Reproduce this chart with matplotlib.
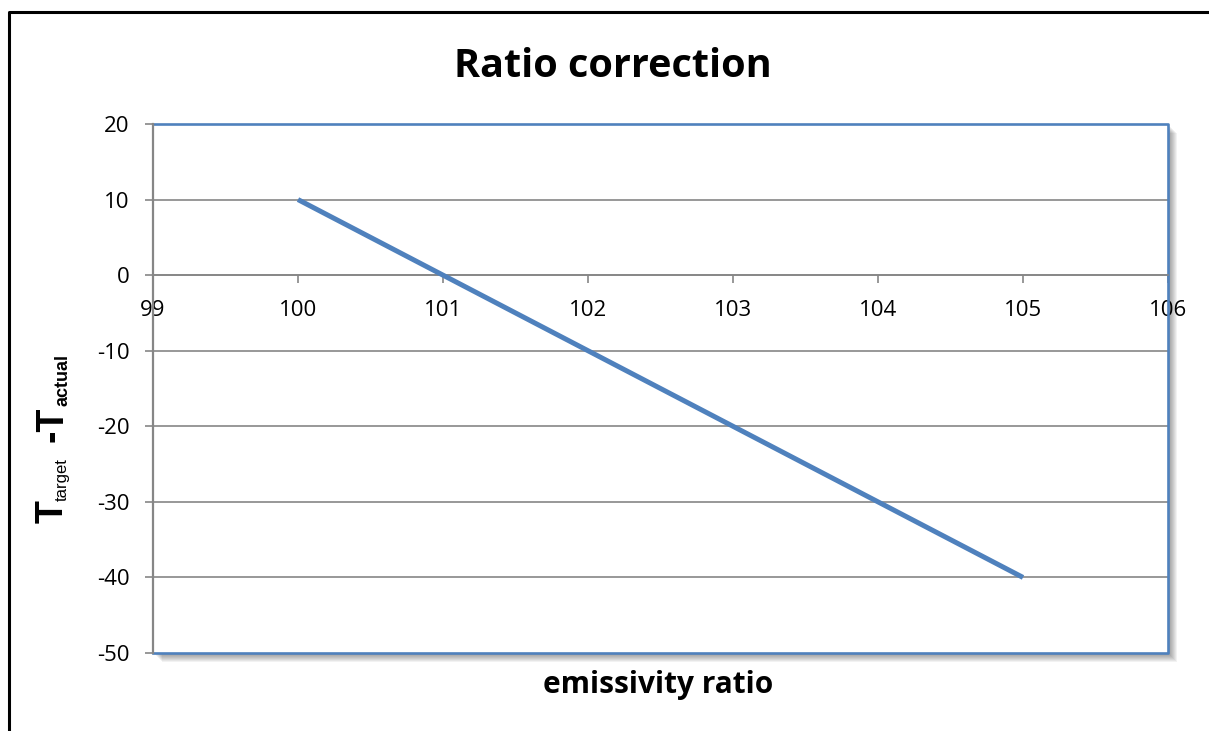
import matplotlib.pyplot as plt
from matplotlib.patches import Rectangle
from matplotlib.lines import Line2D

ratio = [100, 101, 102, 103, 104, 105]
delta_t = [10, 0, -10, -20, -30, -40]
x_ticks = [99, 100, 101, 102, 103, 104, 105, 106]
y_ticks = [20, 10, 0, -10, -20, -30, -40, -50]

W, H = 1209, 731
blue = "#4F81BD"
grey = "#868686"

plt.rcParams['font.family'] = ['Open Sans', 'DejaVu Sans']
plt.rcParams['axes.unicode_minus'] = False

fig = plt.figure(figsize=(W / 100, H / 100), dpi=100)

def fx(px):
    return px / W

def fy(py):
    return 1 - py / H

# plot area in pixels
L, R, T, B = 153, 1168, 124, 653
ax = fig.add_axes([fx(L), fy(B), fx(R - L), (B - T) / H], zorder=2)
ax.set_facecolor("white")

# soft shadow behind plot area
for k in range(1, 10):
    fig.patches.append(Rectangle((fx(L + k), fy(B + k)), fx(R - L), (B - T) / H,
                                 transform=fig.transFigure, facecolor="black",
                                 edgecolor="none", alpha=0.05, zorder=-1))

ax.plot(ratio, delta_t, color=blue, lw=3.6, solid_capstyle="butt", zorder=3)

ax.set_xlim(99, 106)
ax.set_ylim(-50, 20)
ax.set_xticks(x_ticks)
ax.set_yticks(y_ticks)

for yv in y_ticks[1:-1]:
    ax.axhline(yv, color=grey, lw=1.2, zorder=1)

ax.spines['top'].set_visible(False)
ax.spines['right'].set_visible(False)
ax.spines['bottom'].set_position(('data', 0))
ax.spines['bottom'].set_color(grey)
ax.spines['bottom'].set_linewidth(1.2)
ax.spines['left'].set_color(grey)
ax.spines['left'].set_linewidth(1.6)
ax.spines['left'].set_zorder(4)

# blue border on top, right, bottom
ax.add_line(Line2D([0, 1, 1, 0], [1, 1, 0, 0], transform=ax.transAxes,
                   color=blue, lw=1.9, clip_on=False, zorder=2))

ax.tick_params(axis='y', direction='out', length=6, width=1.2, color=grey,
               labelsize=16, pad=11)
ax.tick_params(axis='x', direction='out', length=6, width=1.2, color=grey,
               labelsize=16, pad=12)

fig.text(fx(613), fy(77), "Ratio correction", ha="center", va="baseline",
         fontsize=28.5, fontweight="bold")
fig.text(fx(658), fy(693), "emissivity ratio", ha="center", va="baseline",
         fontsize=21.5, fontweight="bold")

# y label built from pieces: T_target -T_actual
lab = dict(rotation=90, rotation_mode="anchor", ha="left", va="baseline",
           family=["Liberation Sans", "DejaVu Sans"])
fig.text(fx(63), fy(523), "T", fontsize=27, fontweight="bold", **lab)
fig.text(fx(67), fy(501), "target", fontsize=12, **lab)
fig.text(fx(63), fy(442), "-T", fontsize=27, fontweight="bold", **lab)
fig.text(fx(67), fy(406), "actual", fontsize=13, fontweight="bold", **lab)

# outer chart border (left and top visible)
fig.add_artist(Line2D([fx(9), fx(9), fx(W + 5)], [fy(H + 5), fy(12), fy(12)],
                      transform=fig.transFigure, color="black", lw=2.2))

fig.savefig("out.png", dpi=100)
